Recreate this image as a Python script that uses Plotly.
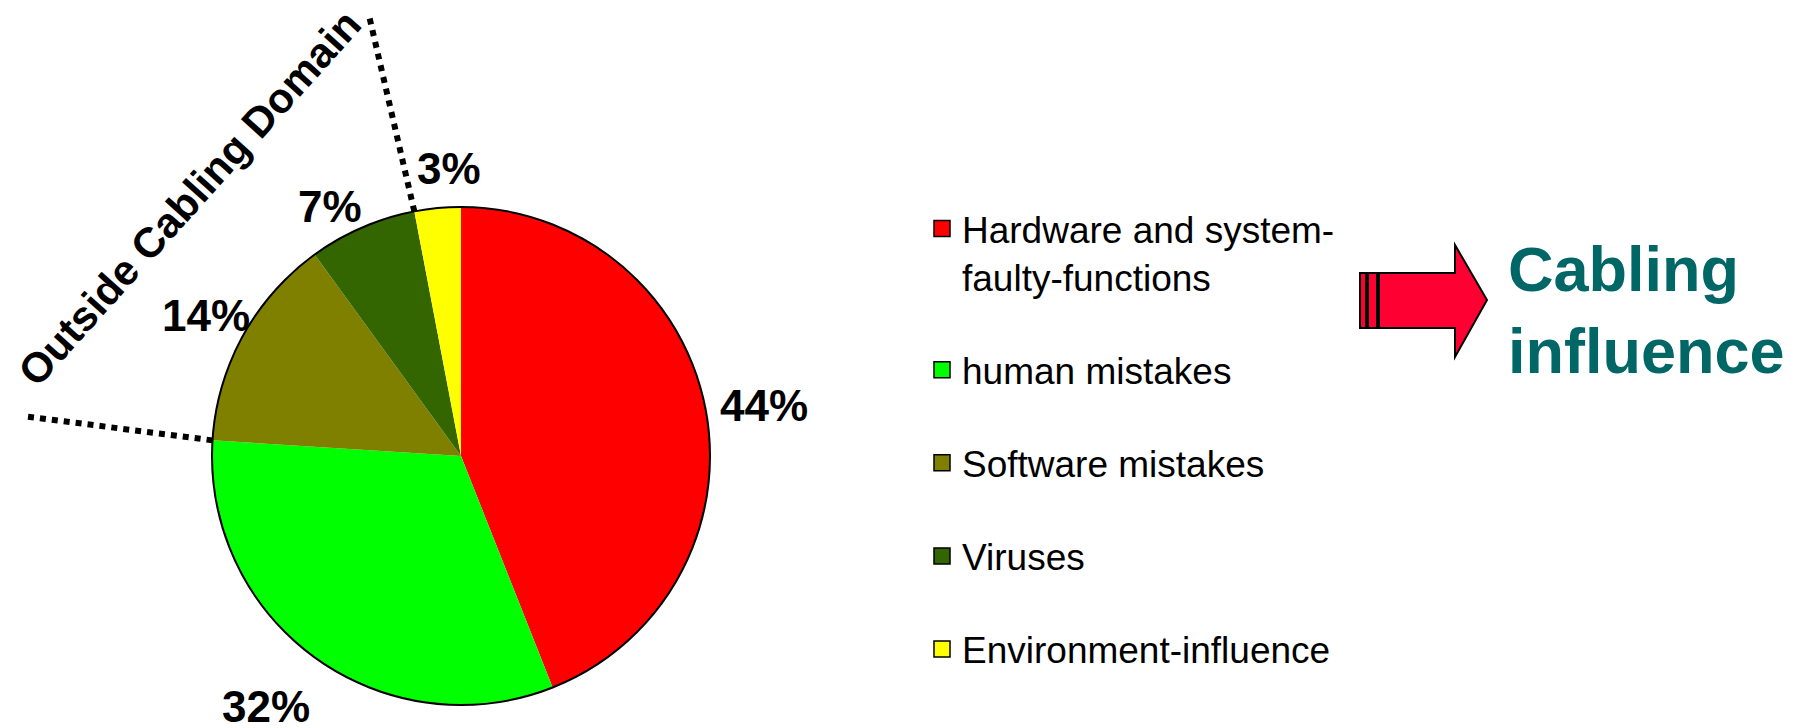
import math
import plotly.graph_objects as go

# ---------------- data ----------------
categories = ["Hardware and system-<br>faulty-functions", "human mistakes",
              "Software mistakes", "Viruses", "Environment-influence"]
values = [44, 32, 14, 7, 3]
colors = ["#FF0000", "#00FF00", "#808000", "#336600", "#FFFF00"]
pct_labels = ["44%", "32%", "14%", "7%", "3%"]
group_title = "Outside Cabling Domain"
callout_text = "Cabling<br>influence"

# ---------------- layout constants ----------------
W, H = 1804, 728
OFF = 8  # page body margin
FONT = "Liberation Sans, Arial, sans-serif"


def fx(px):
    return (px - OFF) / W


def fy(py):
    return 1 - (py - OFF) / H


PIE_X = [fx(212), fx(710)]
PIE_Y = [fy(705), fy(207)]

# label placement: (angle nudge from slice middle in degrees, radius factor)
LABEL_NUDGE = [(1.4, 1.233), (1.8, 1.275), (0.1, 1.170), (-4.3, 1.130), (3.0, 1.157)]

fig = go.Figure()

fig.add_trace(go.Pie(
    values=values, labels=categories, sort=False, direction="clockwise", rotation=0,
    marker=dict(colors=colors, line=dict(width=0)),
    textinfo="none", domain=dict(x=PIE_X, y=PIE_Y), showlegend=False,
    hoverinfo="label+percent",
))
# outer outline of the pie
fig.add_trace(go.Pie(
    values=[1], labels=["outline"], sort=False,
    marker=dict(colors=["rgba(0,0,0,0)"], line=dict(color="black", width=2)),
    textinfo="none", hoverinfo="skip", showlegend=False,
    domain=dict(x=PIE_X, y=PIE_Y),
))

# legend entries
for name, c in zip(categories, colors):
    fig.add_trace(go.Scatter(
        x=[None], y=[None], mode="markers", name=name, legendgroup=name,
        marker=dict(symbol="square", size=16, color=c, line=dict(color="black", width=1.5)),
        hoverinfo="skip",
    ))

# ---------------- geometry from the pie domain ----------------
cx = (PIE_X[0] + PIE_X[1]) / 2 * W
cy = H - (PIE_Y[0] + PIE_Y[1]) / 2 * H
R = min((PIE_X[1] - PIE_X[0]) * W, (PIE_Y[1] - PIE_Y[0]) * H) / 2
total = sum(values)


def polar(angle_deg, r):
    a = math.radians(angle_deg)
    px = cx + r * math.sin(a)
    py = cy - r * math.cos(a)
    return px / W, 1 - py / H


def cum_angle(n):
    return sum(values[:n]) / total * 360


annotations = []
for i, (lab, (dth, rf)) in enumerate(zip(pct_labels, LABEL_NUDGE)):
    mid = (cum_angle(i) + cum_angle(i + 1)) / 2
    x, y = polar(mid + dth, rf * R)
    annotations.append(dict(text=lab, x=x, y=y, xref="paper", yref="paper",
                            xanchor="center", yanchor="middle", showarrow=False,
                            font=dict(size=44, color="black", family=FONT, weight="bold")))

shapes = []
for n, out_off, out_r in [(2, 1.6, 1.755 * R), (4, -1.0, 1.815 * R)]:
    ang = cum_angle(n)
    x0, y0 = polar(ang, R)
    x1, y1 = polar(ang + out_off, out_r)
    shapes.append(dict(type="line", xref="paper", yref="paper", x0=x0, y0=y0, x1=x1, y1=y1,
                       line=dict(color="black", width=6, dash="dot")))


def pth(points):
    s = ""
    for i, (px, py) in enumerate(points):
        s += ("M" if i == 0 else "L") + f"{fx(px):.5f},{fy(py):.5f} "
    return s + "Z"


ARROW_RED = "#FF0033"
body_top, body_bot = 273, 328
arrow_pts = [(1379, body_top), (1455, body_top), (1455, 245), (1487, 300),
             (1455, 357), (1455, body_bot), (1379, body_bot)]
shapes.append(dict(type="path", xref="paper", yref="paper", path=pth(arrow_pts),
                   fillcolor=ARROW_RED, line=dict(color="black", width=2)))
for bx0, bx1 in [(1360, 1366), (1368, 1377)]:
    shapes.append(dict(type="path", xref="paper", yref="paper",
                       path=pth([(bx0, body_top), (bx1, body_top), (bx1, body_bot), (bx0, body_bot)]),
                       fillcolor=ARROW_RED, line=dict(color="black", width=2)))

annotations += [
    dict(text=group_title, x=fx(190), y=fy(198), xref="paper", yref="paper",
         xanchor="center", yanchor="middle", textangle=-48, showarrow=False,
         font=dict(size=42, color="black", family=FONT, weight="bold")),
    dict(text=callout_text, x=fx(1506), y=fy(310), xref="paper", yref="paper",
         xanchor="left", yanchor="middle", align="left", showarrow=False,
         font=dict(size=63, color="#006666", family=FONT, weight="bold")),
]

fig.update_layout(
    width=W, height=H, margin=dict(l=0, r=0, t=0, b=0),
    paper_bgcolor="white", plot_bgcolor="white",
    xaxis=dict(visible=False), yaxis=dict(visible=False),
    legend=dict(x=fx(922), y=fy(198), xanchor="left", yanchor="top",
                font=dict(size=37, family=FONT, color="black"),
                tracegroupgap=42, valign="top", bgcolor="rgba(0,0,0,0)"),
    shapes=shapes, annotations=annotations,
)

fig.write_html("out.html")
